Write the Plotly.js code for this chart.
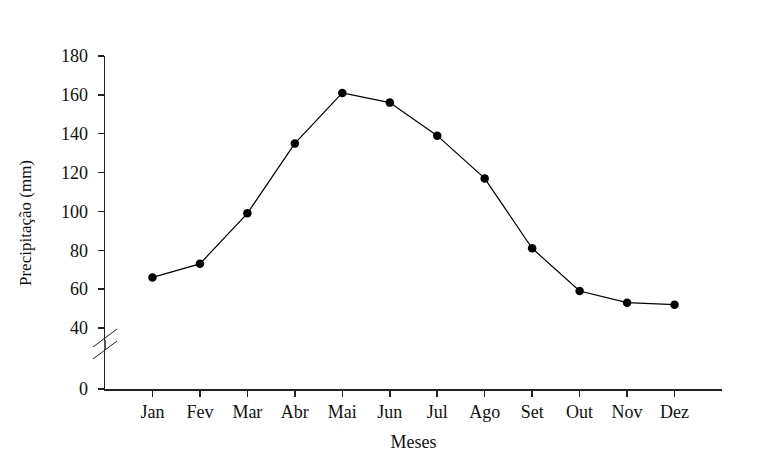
<!DOCTYPE html>
<html>
<head>
<meta charset="utf-8">
<script src="https://cdn.plot.ly/plotly-3.0.1.min.js"></script>
<style>html,body{margin:0;padding:0;background:#fff;}#chart{width:769px;height:452px;}</style>
</head>
<body>
<div id="chart"></div>
<script>
const months = ["Jan","Fev","Mar","Abr","Mai","Jun","Jul","Ago","Set","Out","Nov","Dez"];
const precip = [66, 73, 99, 135, 161, 156, 139, 117, 81, 59, 53, 52];
const upperTicks = [40, 60, 80, 100, 120, 140, 160, 180];
const lowerTicks = [0];
const yTitle = "Precipitação (mm)";
const xTitle = "Meses";

const W = 769, H = 452;
const L = 105, R = 47, T = 56, B = 63;
const pw = W - L - R, ph = H - T - B;
const px = x => (x - L) / pw;
const py = y => (H - B - y) / ph;

const font = {family: "Liberation Serif, Times New Roman, serif", size: 18, color: "#111"};
const axisCommon = {
  showline: true, linecolor: "#222", linewidth: 1.5,
  ticks: "outside", ticklen: 6, tickwidth: 1.5, tickcolor: "#222",
  showgrid: false, zeroline: false, tickfont: font, fixedrange: true
};

const trace = {
  x: months.map((m, i) => i), y: precip, xaxis: "x", yaxis: "y2",
  type: "scatter", mode: "lines+markers",
  line: {color: "#000", width: 1.2},
  marker: {color: "#000", size: 8.5, symbol: "circle"},
  hoverinfo: "skip"
};
// empty trace so the lower (0) segment of the broken axis exists
const lowerHolder = {
  x: [null], y: [null], xaxis: "x", yaxis: "y",
  type: "scatter", mode: "markers", hoverinfo: "skip", showlegend: false
};

const layout = {
  width: W, height: H,
  margin: {l: L, r: R, t: T, b: B},
  paper_bgcolor: "#fff", plot_bgcolor: "#fff",
  showlegend: false,
  xaxis: Object.assign({}, axisCommon, {
    range: [-1, 12], anchor: "y",
    tickmode: "array", tickvals: months.map((m, i) => i), ticktext: months,
    title: {text: xTitle, font: font, standoff: 15}
  }),
  yaxis: Object.assign({}, axisCommon, {
    domain: [0, py(350)], range: [0, 20.07], anchor: "x",
    tickmode: "array", tickvals: lowerTicks, ticklabelstandoff: 6
  }),
  yaxis2: Object.assign({}, axisCommon, {
    domain: [py(340), 1], range: [33.8, 180], anchor: "x",
    tickmode: "array", tickvals: upperTicks, ticklabelstandoff: 6
  }),
  annotations: [
    {text: yTitle, xref: "paper", yref: "paper", x: px(25), y: py(223),
     xanchor: "center", yanchor: "middle", textangle: -90, showarrow: false,
     font: {family: font.family, size: 17, color: "#111"}}
  ],
  shapes: [
    {type: "line", xref: "paper", yref: "paper", x0: 0, x1: 0, y0: py(350), y1: py(340), line: {color: "#222", width: 1.5}},
    {type: "line", xref: "paper", yref: "paper", x0: px(93), x1: px(117), y0: py(347), y1: py(329), line: {color: "#222", width: 1}},
    {type: "line", xref: "paper", yref: "paper", x0: px(93), x1: px(117), y0: py(359), y1: py(341), line: {color: "#222", width: 1}}
  ]
};

Plotly.newPlot("chart", [trace, lowerHolder], layout, {displayModeBar: false, staticPlot: true});
</script>
</body>
</html>
